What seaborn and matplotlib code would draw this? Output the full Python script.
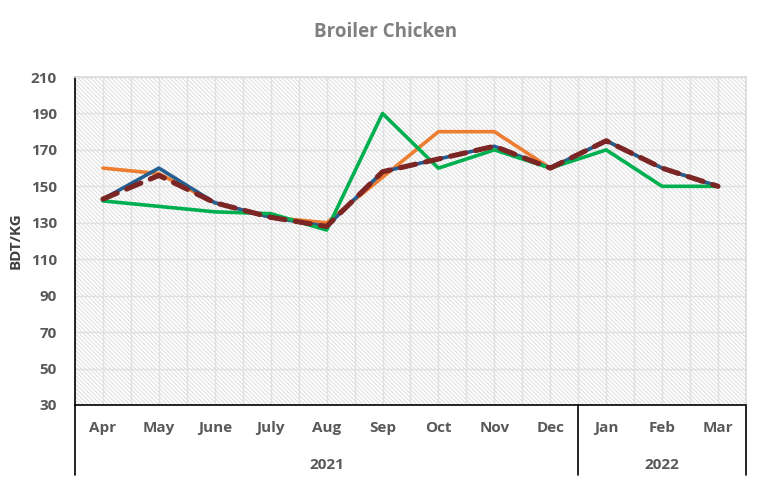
import matplotlib.pyplot as plt
import pandas as pd
import seaborn as sns

months = ["Apr", "May", "June", "July", "Aug", "Sep", "Oct", "Nov", "Dec", "Jan", "Feb", "Mar"]
years = ["2021", "2022"]
year_spans = [(0, 8), (9, 11)]

series_a = [160, 157, 141, 133, 130, 155, 180, 180, 160, 175, 160, 150]  # orange
series_b = [143, 160, 141, 133, 128, 158, 165, 172, 160, 175, 160, 150]  # blue
series_c = [142, 139, 136, 135, 126, 190, 160, 170, 160, 170, 150, 150]  # green
average = [143, 156, 141, 133, 128, 158, 165, 172, 160, 175, 160, 150]  # dashed

sns.set_theme(style="white")
plt.rcParams["font.family"] = ["Open Sans", "DejaVu Sans"]
plt.rcParams["hatch.color"] = "#e6e6e6"
plt.rcParams["hatch.linewidth"] = 0.7

df = pd.DataFrame({"month": months, "A": series_a, "B": series_b, "C": series_c, "Avg": average})

fig = plt.figure(figsize=(7.73, 4.84), dpi=100)
ax = fig.add_axes([75 / 773, 79 / 484, 671 / 773, 328 / 484])

ax.patch.set_hatch("\\" * 8)
ax.patch.set_edgecolor("#dcdcdc")

sns.lineplot(df, x="month", y="A", ax=ax, color="#ED7D31", linewidth=2.6, sort=False)
sns.lineplot(df, x="month", y="B", ax=ax, color="#255E91", linewidth=2.6, sort=False)
sns.lineplot(df, x="month", y="C", ax=ax, color="#00B050", linewidth=2.6, sort=False)
sns.lineplot(df, x="month", y="Avg", ax=ax, color="#7B2525", linewidth=3.7, sort=False,
             linestyle=(0, (3, 2)), dash_capstyle="round", solid_capstyle="round")

ax.set_xlim(-0.5, 11.5)
ax.set_ylim(30, 210)
ax.set_yticks(range(30, 211, 20))
ax.set_xticks([i - 0.5 for i in range(13)] + list(range(12)))
ax.grid(True, color="#e0e0e0", linewidth=1.0)
ax.set_axisbelow(True)
ax.set_xticklabels([])
ax.tick_params(axis="x", length=0)
ax.tick_params(axis="y", length=0, labelsize=11, labelcolor="#595959", pad=13)
for lab in ax.get_yticklabels():
    lab.set_fontweight("bold")

for side in ["top", "right"]:
    ax.spines[side].set_color("#dcdcdc")
for side in ["left", "bottom"]:
    ax.spines[side].set_color("black")
    ax.spines[side].set_linewidth(1.2)

trans = ax.get_xaxis_transform()
for i, m in enumerate(months):
    ax.text(i, -23 / 328, m, transform=trans, ha="center", va="center",
            fontsize=11, fontweight="bold", color="#595959")
for y, (s, e) in zip(years, year_spans):
    ax.text((s + e) / 2, -60 / 328, y, transform=trans, ha="center", va="center",
            fontsize=11, fontweight="bold", color="#595959")
for xs in [-0.5, 8.5, 11.5]:
    ax.plot([xs, xs], [0, -70 / 328], transform=trans, color="black", linewidth=1.2, clip_on=False)

ax.set_xlabel("")
ax.set_ylabel("BDT/KG", fontsize=11, fontweight="bold", color="#404040", labelpad=6)
fig.text(386 / 773, 1 - 32 / 484, "Broiler Chicken", ha="center", va="center",
         fontsize=13.5, fontweight="bold", color="#7F7F7F")

fig.savefig("out.png", dpi=100)
